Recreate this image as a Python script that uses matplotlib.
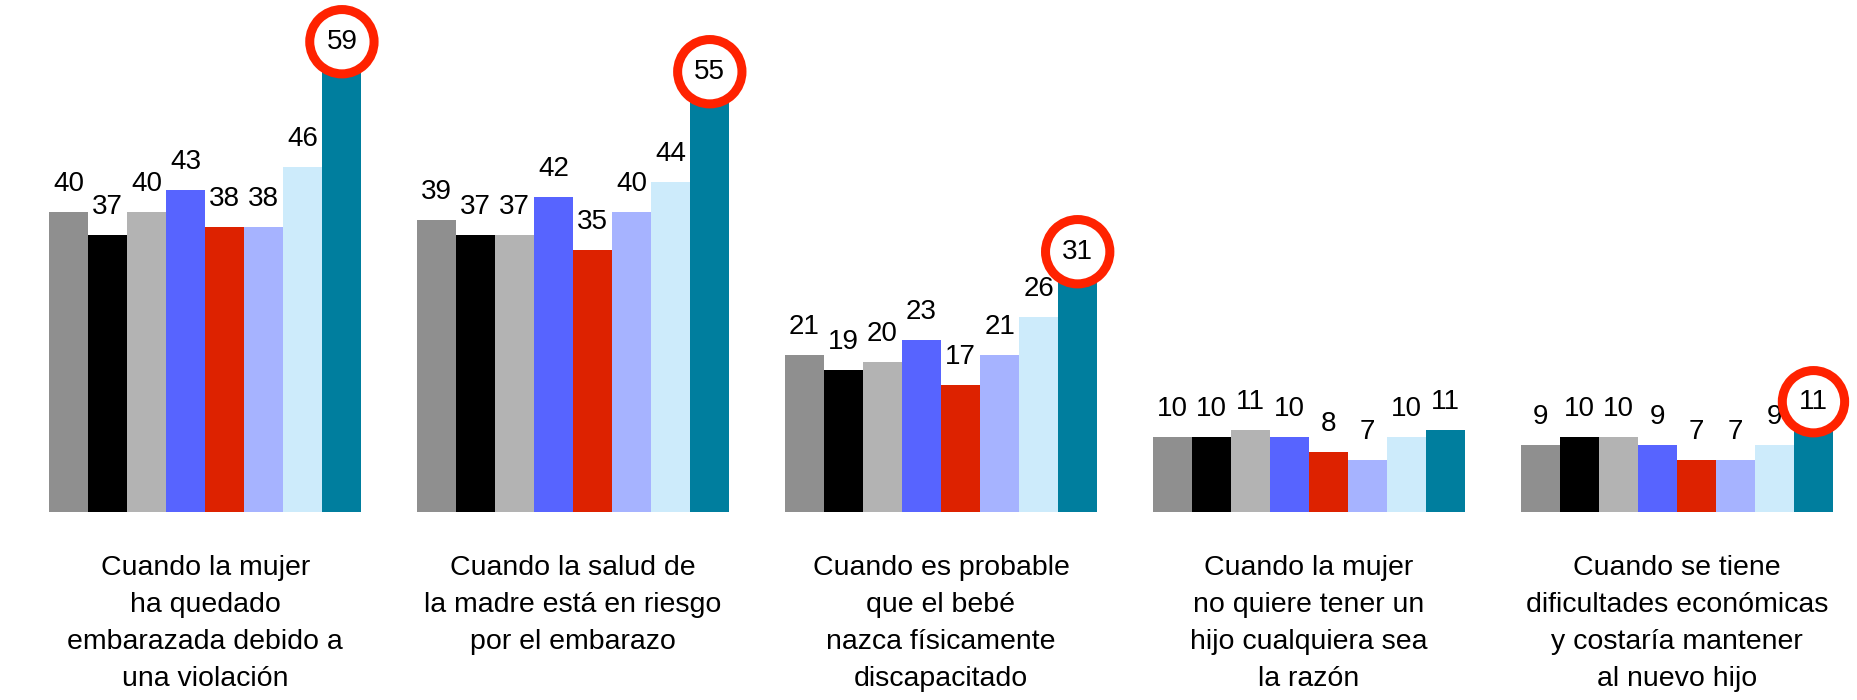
import matplotlib
matplotlib.use('Agg')
import matplotlib.pyplot as plt
import numpy as np

# datos
categorias = [
    "Cuando la mujer\nha quedado\nembarazada debido a\nuna violación",
    "Cuando la salud de\nla madre está en riesgo\npor el embarazo",
    "Cuando es probable\nque el bebé\nnazca físicamente\ndiscapacitado",
    "Cuando la mujer\nno quiere tener un\nhijo cualquiera sea\nla razón",
    "Cuando se tiene\ndificultades económicas\ny costaría mantener\nal nuevo hijo",
]
serie_1 = [40, 39, 21, 10, 9]
serie_2 = [37, 37, 19, 10, 10]
serie_3 = [40, 37, 20, 11, 10]
serie_4 = [43, 42, 23, 10, 9]
serie_5 = [38, 35, 17, 8, 7]
serie_6 = [38, 40, 21, 7, 7]
serie_7 = [46, 44, 26, 10, 9]
serie_8 = [59, 55, 31, 11, 11]
# grupos cuyo ultimo valor va dentro de un circulo rojo
resaltado = [True, True, True, False, True]

series = [serie_1, serie_2, serie_3, serie_4, serie_5, serie_6, serie_7, serie_8]
colores = ['#8F8F8F', '#000000', '#B3B3B3', '#5764FF',
           '#DD2200', '#A6B3FF', '#CDEBFB', '#007E9E']

plt.rcParams['font.family'] = ['Liberation Sans', 'DejaVu Sans']

fig = plt.figure(figsize=(18.58, 7.0), dpi=100)
ax = fig.add_axes([49 / 1858, 188 / 700, 1784 / 1858, 487.5 / 700])

paso = 9.42
n_series = len(series)
inicio = np.arange(len(categorias)) * paso

for i, (vals, col) in enumerate(zip(series, colores)):
    x = inicio + i + 0.5
    ax.bar(x, vals, width=1.0, color=col, linewidth=0)
    for g, (xi, v) in enumerate(zip(x, vals)):
        if i == n_series - 1 and resaltado[g]:
            ax.annotate(str(v), (xi, v), xytext=(0, 20), textcoords='offset points',
                        ha='center', va='center', fontsize=20, color='black', zorder=5,
                        bbox=dict(boxstyle='circle,pad=0.6', fc='white', ec='#FF2200', lw=6.5))
        else:
            ax.annotate(str(v), (xi, v), xytext=(0, 15), textcoords='offset points',
                        ha='center', va='baseline', fontsize=20, color='black')

for c, texto in zip(inicio + n_series / 2, categorias):
    ax.text(c, -0.088, texto, transform=ax.get_xaxis_transform(), ha='center', va='top',
            fontsize=20.5, linespacing=1.55)

ax.set_xlim(0, inicio[-1] + n_series)
ax.set_ylim(0, 65)
ax.axis('off')

fig.savefig('out.png', dpi=100)
